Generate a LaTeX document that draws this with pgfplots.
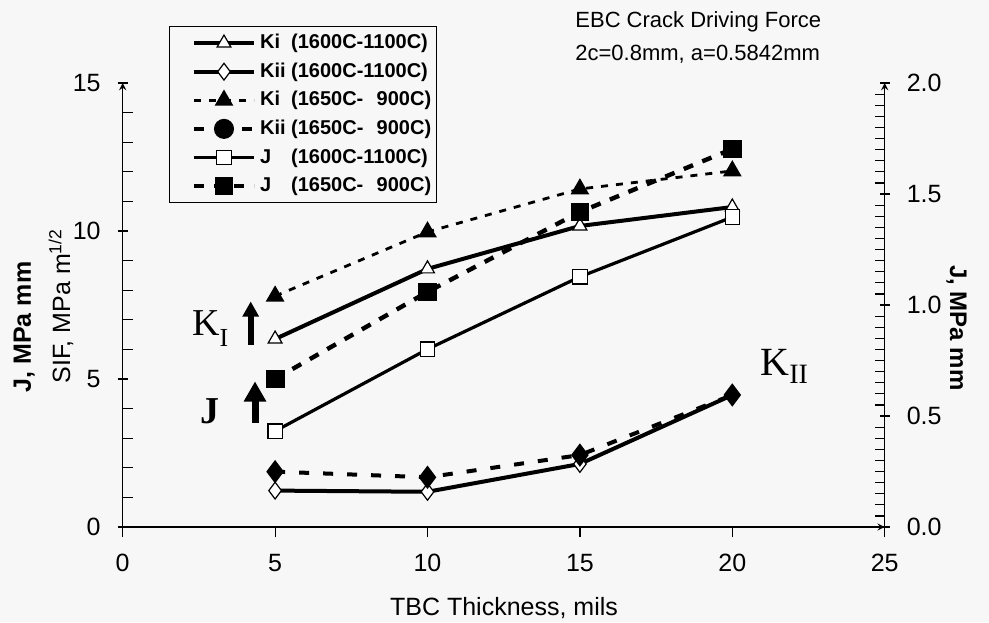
\documentclass[border=0pt]{standalone}
\usepackage{fontspec}
\setmainfont{Liberation Sans}
\newfontfamily\serif{Liberation Serif}
\usepackage{pgfplots}
\pgfplotsset{compat=1.18}
\definecolor{bg}{RGB}{247,247,247}

% series styles
\pgfplotsset{
  kione/.style={black, line width=2pt, mark=triangle*, mark size=4pt,
    mark options={solid, fill=white, line width=0.6pt}},
  kiione/.style={black, line width=2pt, mark=diamond*, mark size=4.2pt,
    mark options={solid, fill=white, line width=0.6pt}},
  kitwo/.style={black, line width=1.4pt, dash pattern=on 3.5pt off 4pt,
    mark=triangle*, mark size=4pt, mark options={solid}},
  kiitwo/.style={black, line width=2pt, dash pattern=on 5pt off 7pt,
    mark=diamond*, mark size=4.2pt, mark options={solid}},
  jone/.style={black, line width=1.6pt, mark=square*, mark size=3.6pt,
    mark options={solid, fill=white, line width=0.6pt}},
  jtwo/.style={black, line width=2.2pt, dash pattern=on 5pt off 5pt,
    mark=square*, mark size=3.6pt, mark options={solid}},
  base/.style={
    scale only axis, width=381pt, height=222pt,
    at={(61.35pt,47.5pt)}, anchor=south west,
    xmin=0, xmax=25, clip=false,
    axis line style={-, line width=0.6pt},
    every outer x axis line/.append style={-},
    every outer y axis line/.append style={-},
    every inner x axis line/.append style={-},
    every inner y axis line/.append style={-},
    tick style={black, line width=0.6pt},
    major tick length=5pt, minor tick length=5pt,
    tick label style={font=\fontsize{12.5}{14}\selectfont},
    /pgf/number format/assume math mode=true,
  },
}

\begin{document}
\begin{tikzpicture}
\fill[bg] (0,0) rectangle (494.5pt,311pt);

% left axis: stress intensity factors
\begin{axis}[base,
  axis x line=bottom, axis y line=left,
  ymin=0, ymax=15,
  xtick={0,5,...,25}, xtick align=outside,
  ytick={0,5,10,15}, minor y tick num=4, ytick align=center,
  minor tick style={xshift=2.5pt},
  xticklabel style={yshift=-5pt},
  yticklabel style={xshift=-5pt},
]
\addplot[kione] coordinates {(5,6.35) (10,8.72) (15,10.17) (20,10.81)};
\addplot[kiione] coordinates {(5,1.23) (10,1.19) (15,2.13) (20,4.46)};
\addplot[kitwo] coordinates {(5,7.80) (10,9.97) (15,11.42) (20,12.03)};
\addplot[kiitwo] coordinates {(5,1.87) (10,1.68) (15,2.43) (20,4.46)};
\end{axis}

% right axis: J
\begin{axis}[base,
  axis x line=none, axis y line=right,
  ymin=0, ymax=2,
  ytick={0,0.5,...,2}, minor y tick num=9, ytick align=center,
  minor tick style={xshift=-2.5pt},
  yticklabel style={xshift=5pt, /pgf/number format/.cd, fixed, fixed zerofill, precision=1},
  legend cell align=left,
  legend image code/.code={
    \path (-11pt,0pt);
    \draw[mark repeat=2,mark phase=2] plot coordinates {(0pt,0pt) (15pt,0pt) (30pt,0pt)};},
  legend style={at={(axis description cs:0.061,1.128)}, anchor=north west,
    draw=black, line width=0.6pt, fill=bg,
    font=\bfseries\fontsize{10}{12}\selectfont,
    inner xsep=0pt, inner ysep=1pt, row sep=0pt, column sep=0pt,
    nodes={inner xsep=2pt, inner ysep=2.15pt, text height=7.8pt, text depth=2.2pt,
      text width=86pt, align=left}},
]
\addlegendimage{kione}
\addlegendimage{kiione}
\addlegendimage{kitwo}
\addlegendimage{kiitwo, mark=*, mark size=4pt}
\addplot[jone] coordinates {(5,0.432) (10,0.801) (15,1.127) (20,1.396)};
\addplot[jtwo] coordinates {(5,0.667) (10,1.059) (15,1.419) (20,1.703)};
\legend{\makebox[15.5pt][l]{Ki}(1600C-1100C),
        \makebox[15.5pt][l]{Kii}(1600C-1100C),
        \makebox[15.5pt][l]{Ki}(1650C-\ \ 900C),
        \makebox[15.5pt][l]{Kii}(1650C-\ \ 900C),
        \makebox[15.5pt][l]{J}(1600C-1100C),
        \makebox[15.5pt][l]{J}(1650C-\ \ 900C)}
\end{axis}

% title
\node[anchor=base west, inner sep=0pt, font=\fontsize{11}{13}\selectfont] at (287.5pt,297.25pt) {EBC Crack Driving Force};
\node[anchor=base west, inner sep=0pt, font=\fontsize{11}{13}\selectfont] at (287.5pt,280.75pt) {2c=0.8mm, a=0.5842mm};

% axis labels
\node[rotate=90, anchor=base, inner sep=0pt, font=\fontsize{12.5}{14}\selectfont] at (35pt,158pt) {SIF, MPa m\textsuperscript{1/2}};
\node[rotate=90, anchor=base, inner sep=0pt, font=\bfseries\fontsize{12.5}{14}\selectfont] at (15.5pt,147.5pt) {J, MPa mm};
\node[rotate=-90, anchor=base, inner sep=0pt, font=\bfseries\fontsize{12}{14}\selectfont] at (475pt,147pt) {J, MPa mm};
\node[anchor=base, inner sep=0pt, font=\fontsize{12.5}{14}\selectfont] at (252pt,3.5pt) {TBC Thickness, mils};

% annotations
\node[anchor=base west, inner sep=0pt, font=\serif\fontsize{19}{20}\selectfont] at (95.85pt,143.5pt) {K\raisebox{-5.5pt}{\fontsize{13}{14}\selectfont I}};
\node[anchor=base west, inner sep=0pt, font=\serif\bfseries\fontsize{19}{20}\selectfont] at (100pt,99.5pt) {J};
\node[anchor=base west, inner sep=0pt, font=\serif\fontsize{20}{22}\selectfont] at (380pt,123.5pt) {K\raisebox{-4pt}{\fontsize{14}{15}\selectfont II}};
\fill (123.85pt,138.5pt) rectangle (126.85pt,153pt);
\fill (121.1pt,152.65pt) -- (129.6pt,152.65pt) -- (125.35pt,160.15pt) -- cycle;
\fill (125.75pt,99.5pt) rectangle (129.25pt,110.5pt);
\fill (121.75pt,110.15pt) -- (133.25pt,110.15pt) -- (127.5pt,120.15pt) -- cycle;

\pgfresetboundingbox
\path[use as bounding box] (0,0) rectangle (494.5pt,311pt);
\end{tikzpicture}
\end{document}
